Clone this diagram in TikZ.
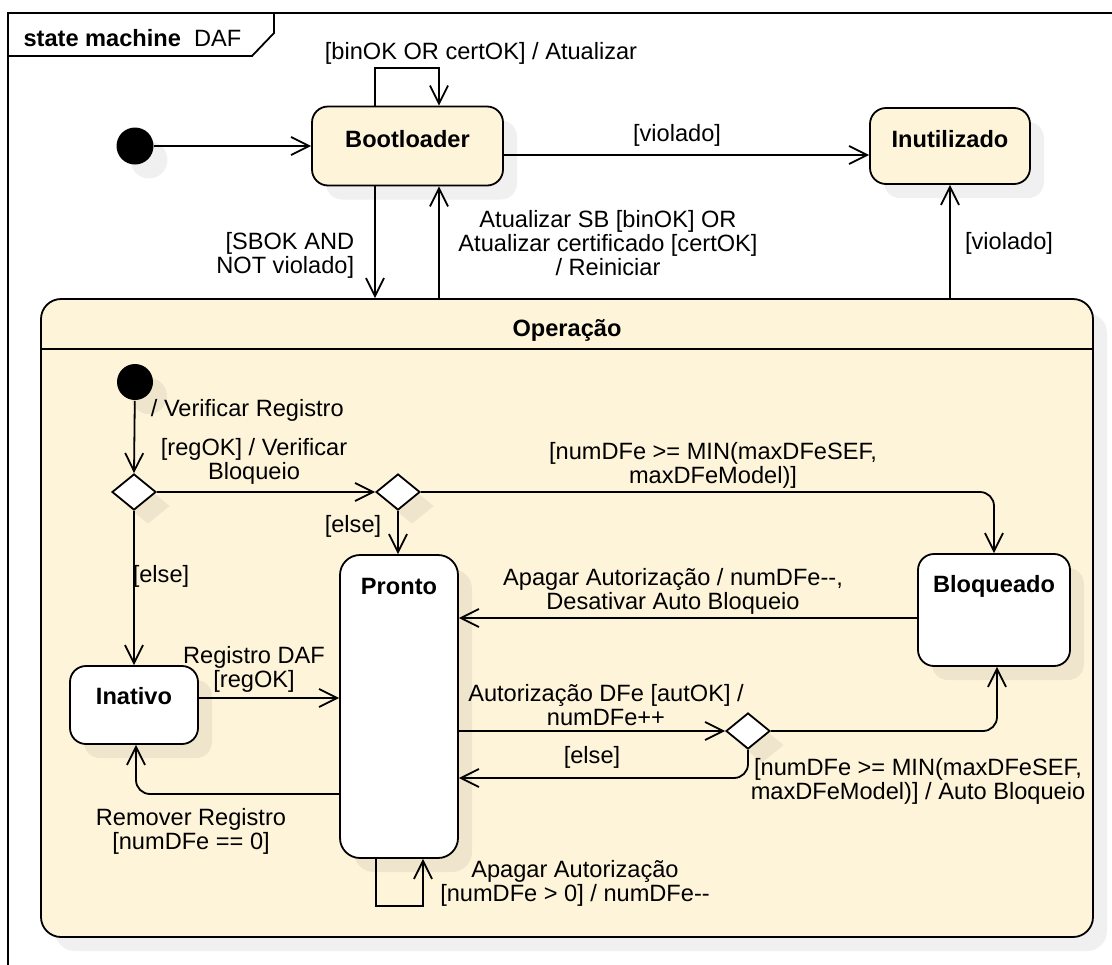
\documentclass[tikz,border=0pt]{standalone}
\usepackage{fontspec}
\setmainfont{Liberation Sans}
\usetikzlibrary{positioning, shapes.geometric, arrows.meta, shadows}
\definecolor{stfill}{RGB}{254,244,218}

\begin{document}
\begin{tikzpicture}[
  x=0.5pt, y=-0.5pt,
  >={Straight Barb[length=9pt,width=9pt]},
  line width=0.9pt,
  every node/.style={font=\fontsize{11.8}{12}\selectfont},
  dropsh/.style={drop shadow={shadow xshift=7pt, shadow yshift=-7pt, fill=black, opacity=0.06}},
  stbox/.style={draw, rounded corners=8pt, fill=stfill, inner sep=0pt, dropsh},
  substbox/.style={stbox, fill=white},
  initdot/.style={circle, fill=black, minimum size=18.5pt, inner sep=0pt, dropsh},
  choicept/.style={diamond, draw, fill=white, minimum width=22pt, minimum height=18pt, inner sep=0pt, dropsh},
  stname/.style={font=\fontsize{11.8}{12}\selectfont\bfseries},
  guard/.style={align=center, inner sep=1pt}
]
\useasboundingbox (0,0) rectangle (1112,964);

% Frame
\draw (8,990) -- (8,13) -- (1130,13);
\draw (8,56) -- (252,56) -- (274,33) -- (274,13);
\node[anchor=west] (frm) at (16,38) {\textbf{state machine}\ \ DAF};

% Top level states
\node[initdot] (init) at (135,146) {};
\node[stbox, minimum width=95.5pt, minimum height=39.5pt] (boot) at (407.5,146) {};
\node[stname] at ([yshift=-16.5pt]boot.north) {Bootloader};
\node[stbox, minimum width=80pt, minimum height=38pt] (inut) at (950,146) {};
\node[stname] at ([yshift=-16pt]inut.north) {Inutilizado};

% Composite state
\node[stbox, rounded corners=10pt, minimum width=526pt, minimum height=319pt] (op) at (567,618) {};
\draw (op.west |- 0,349) -- (op.east |- 0,349);
\node[stname] at (567,330) {Operação};

% Substates
\node[initdot, minimum size=18pt] (init2) at (135,382) {};
\node[choicept] (d1) at (134,492) {};
\node[choicept] (d2) at (398,492) {};
\node[choicept] (d3) at (748,731) {};
\node[substbox, rounded corners=10pt, minimum width=59pt, minimum height=151.5pt] (pronto) at (399,706.5) {};
\node[stname] at ([yshift=-16pt]pronto.north) {Pronto};
\node[substbox, minimum width=64pt, minimum height=39pt] (inat) at (134,705) {};
\node[stname] at (134,696) {Inativo};
\node[substbox, minimum width=76pt, minimum height=56pt] (bloq) at (994,610) {};
\node[stname] at ([yshift=-16.5pt]bloq.north) {Bloqueado};

% Helper points
\coordinate (lpA) at (375,68);
\coordinate (lpB) at (439,68);
\coordinate (vio) at (0,155);
\coordinate (ha) at (0,618);
\coordinate (hb) at (0,698);
\coordinate (hc) at (0,794);
\coordinate (hd) at (0,778);
\coordinate (lpC) at (376,906);
\coordinate (lpD) at (423,906);

% Top level transitions
\draw[->] (init) -- (boot);
\draw[->] (boot.north -| lpA) -- (lpA) -- (lpB) -- (boot.north -| lpB);
\draw[->] (boot.south -| lpA) -- (op.north -| lpA);
\draw[->] (op.north -| lpB) -- (boot.south -| lpB);
\draw[->] (boot.east |- vio) -- (inut.west |- vio);
\draw[->] (op.north -| inut) -- (inut.south);

% Inner transitions
\draw[->] (init2) -- (d1.north);
\draw[->] (d1.east) -- (d2.west);
\draw[->] (d2.south) -- (pronto.north -| d2);
\draw[->, rounded corners=7pt] (d2.east) -| (bloq.north);
\draw[->] (d1.south) -- (inat.north);
\draw[->] (bloq.west |- ha) -- (pronto.east |- ha);
\draw[->] (inat.east |- hb) -- (pronto.west |- hb);
\draw[->, rounded corners=7pt] (pronto.west |- hc) -| ([xshift=1pt]inat.south);
\draw[->] (pronto.east |- d3) -- (d3.west);
\draw[->, rounded corners=7pt] (d3.east) -| ([xshift=1.5pt]bloq.south);
\draw[->, rounded corners=7pt] (d3.south) |- (pronto.east |- hd);
\draw[->] (pronto.south -| lpC) -- (lpC) -- (lpD) -- (pronto.south -| lpD);

% Labels
\node[guard] (l1) at (481,53) {[binOK OR certOK] / Atualizar};
\node[guard, align=right, anchor=east] (l2) at (357,255) {[SBOK AND\\NOT violado]};
\node[guard] (l3) at (608,243) {Atualizar SB [binOK] OR\\Atualizar certificado [certOK]\\/ Reiniciar};
\node[guard] (l4) at (677,135) {[violado]};
\node[guard] (l5) at (1009,243) {[violado]};
\node[guard, anchor=west] (l6) at (148,410) {/ Verificar Registro};
\node[guard] (l7) at (254,461) {[regOK] / Verificar\\Bloqueio};
\node[guard] (l8) at (353,526) {[else]};
\node[guard] (l9) at (161,576) {[else]};
\node[guard] (l10) at (713,465) {[numDFe >= MIN(maxDFeSEF,\\maxDFeModel)]};
\node[guard] (l11) at (673,591) {Apagar Autorização / numDFe-{}-,\\Desativar Auto Bloqueio};
\node[guard] (l12) at (254,669) {Registro DAF\\{}[regOK]};
\node[guard] (l13) at (606,705) {Autorização DFe [autOK] /\\numDFe++};
\node[guard] (l14) at (592,757) {[else]};
\node[guard] (l15) at (918,781) {[numDFe >= MIN(maxDFeSEF,\\maxDFeModel)] / Auto Bloqueio};
\node[guard] (l16) at (191,831) {Remover Registro\\{}[numDFe == 0]};
\node[guard] (l17) at (575,883) {Apagar Autorização\\{}[numDFe > 0] / numDFe-{}-};
\end{tikzpicture}
\end{document}
